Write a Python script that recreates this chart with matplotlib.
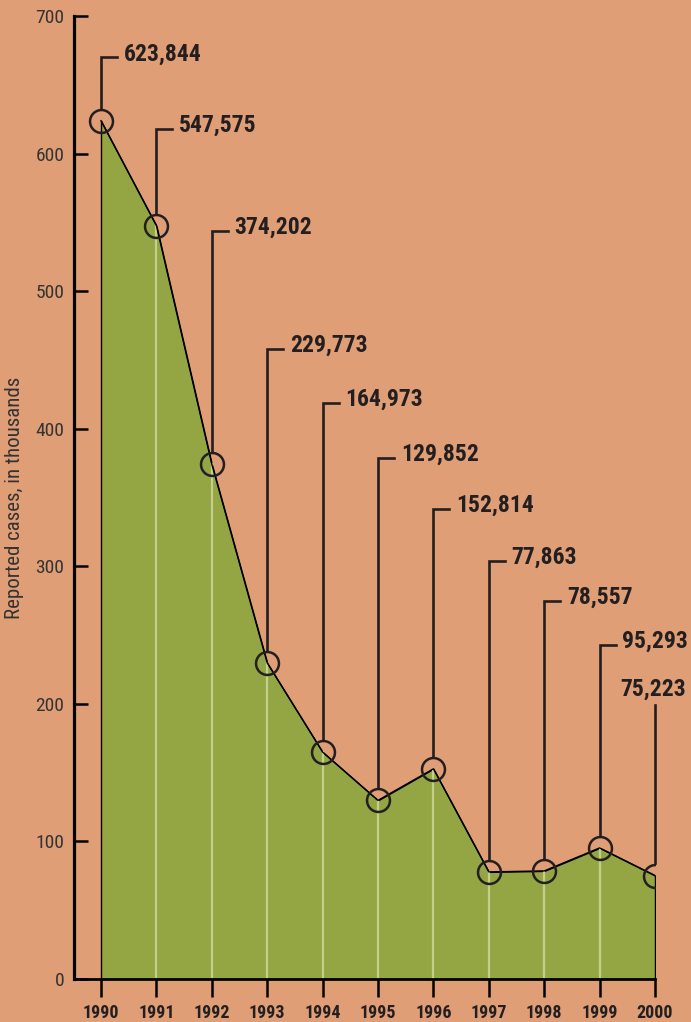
import matplotlib
matplotlib.use("Agg")
import matplotlib.pyplot as plt

# data
years = [1990, 1991, 1992, 1993, 1994, 1995, 1996, 1997, 1998, 1999, 2000]
cases = [623844, 547575, 374202, 229773, 164973, 129852, 152814, 77863, 78557, 95293, 75223]
cases_k = [c / 1000 for c in cases]
labels = ["{:,}".format(c) for c in cases]
yticks = [0, 100, 200, 300, 400, 500, 600, 700]

# layout of the callouts (height of the leader line, in thousands)
callout_level = [670, 618, 544, 458, 419, 379, 342, 304, 275, 243, 199]

matplotlib.rcParams['font.family'] = ['Roboto Condensed', 'DejaVu Sans']

bg = "#E09E76"
green = "#94A544"
ink = "#231F20"

fig = plt.figure(figsize=(6.91, 10.22), dpi=100)
fig.patch.set_facecolor(bg)
ax = fig.add_axes([74/691, 43/1022, (655-74)/691, (979-16)/1022])
ax.set_facecolor(bg)

ax.fill_between(years, cases_k, 0, facecolor=green, edgecolor="black", linewidth=1.0, zorder=1)
# light lines inside the area
for i in range(1, len(years) - 1):
    ax.plot([years[i], years[i]], [0, cases_k[i]], color="#C5CF8C", linewidth=1.6, zorder=2)
ax.plot(years, cases_k, color="black", linewidth=1.0, zorder=3)
ax.plot(years, cases_k, "o", markersize=16.5, markerfacecolor="none",
        markeredgecolor=ink, markeredgewidth=1.8, zorder=4)

for i in range(len(years)):
    x = years[i]
    top = cases_k[i] + 9
    lev = callout_level[i]
    if i < len(years) - 1:
        ax.plot([x, x, x + 0.29], [top, lev, lev], color=ink, linewidth=1.9,
                solid_joinstyle="miter", zorder=3, clip_on=False)
        ax.text(x + 0.41, lev - 2.2, labels[i], fontsize=17, fontweight="bold",
                color=ink, va="baseline", ha="left")
    else:
        ax.plot([x, x], [top, lev], color=ink, linewidth=1.9, zorder=3, clip_on=False)
        ax.text(x - 0.03, lev + 3.6, labels[i], fontsize=17, fontweight="bold",
                color=ink, va="bottom", ha="center")

ax.set_xlim(1990 - 27/55.4, 2000)
ax.set_ylim(0, 700)

for s in ["top", "right"]:
    ax.spines[s].set_visible(False)
ax.spines["left"].set_linewidth(2.3)
ax.spines["bottom"].set_linewidth(2.0)
ax.spines["left"].set_color("black")
ax.spines["bottom"].set_color("black")

ax.set_yticks(yticks)
ax.set_yticklabels([str(t) for t in yticks], fontsize=14, color="#333333")
ax.tick_params(axis="y", direction="in", length=10, width=1.8, pad=7)
ax.set_xticks(years)
ax.set_xticklabels([str(y) for y in years], fontsize=13, fontweight="bold", color=ink)
ax.tick_params(axis="x", direction="out", length=13, width=1.8, pad=5)

ax.set_ylabel("Reported cases, in thousands", fontsize=15,
              color="#333333", labelpad=8)

fig.savefig("out.png", dpi=100, facecolor=bg)
